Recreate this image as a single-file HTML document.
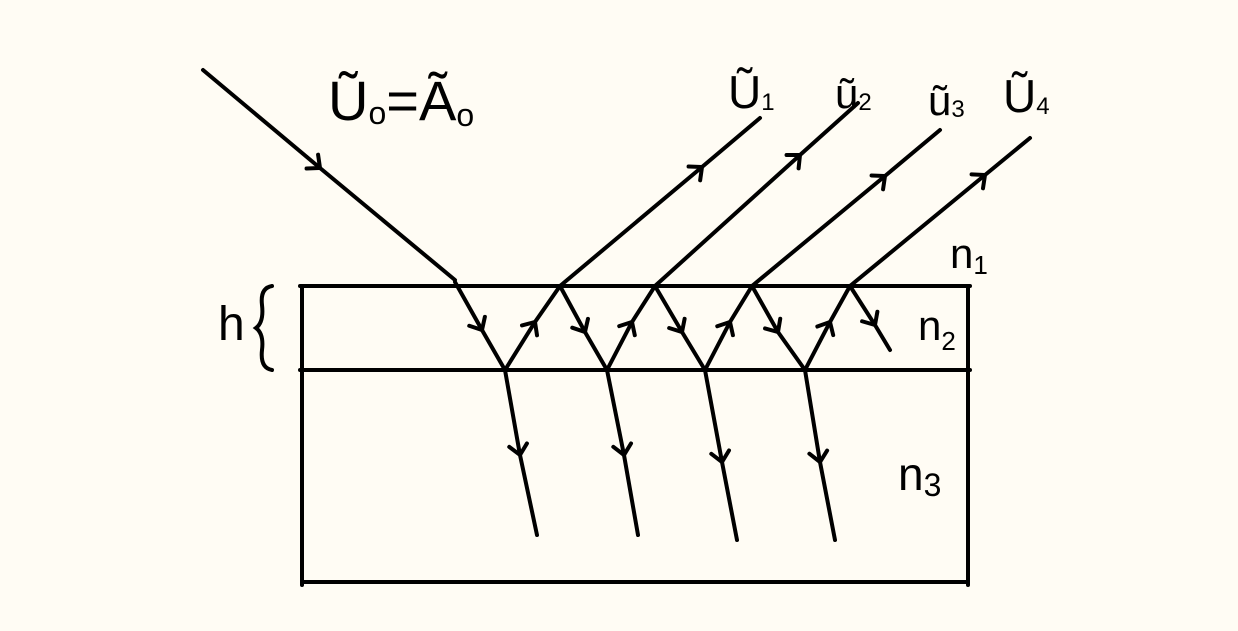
<!DOCTYPE html>
<html><head><meta charset="utf-8"><style>
html,body{margin:0;padding:0;background:#fffcf4;}
svg{display:block}
text{font-family:"Liberation Sans",sans-serif;fill:#000;}
</style></head><body>
<svg width="1238" height="631" viewBox="0 0 1238 631" xmlns="http://www.w3.org/2000/svg">
<defs>
<marker id="a" markerUnits="userSpaceOnUse" markerWidth="30" markerHeight="30" refX="0" refY="0" viewBox="-15 -15 30 30" orient="auto" overflow="visible">
<path d="M-10,-9 L0,0 L-10,9" fill="none" stroke="#000" stroke-width="4" stroke-linecap="round"/>
</marker>
</defs>
<rect width="1238" height="631" fill="#fffcf4"/>
<g stroke="#000" stroke-width="4" fill="none" stroke-linecap="round">
<line x1="300" y1="286" x2="970" y2="286"/>
<line x1="300" y1="370" x2="970" y2="370"/>
<line x1="302" y1="582" x2="968" y2="582"/>
<line x1="302" y1="286" x2="302" y2="585"/>
<line x1="968" y1="286" x2="968" y2="585"/>
<path d="M203,70 L320,168 L455,280" marker-mid="url(#a)"/>
<path d="M455,282 L482,330 L505,370" marker-mid="url(#a)"/>
<path d="M505,370 L535,322 L560,286" marker-mid="url(#a)"/>
<path d="M560,286 L585,332 L607,370" marker-mid="url(#a)"/>
<path d="M607,370 L632,322 L655,286" marker-mid="url(#a)"/>
<path d="M655,286 L682,332 L705,370" marker-mid="url(#a)"/>
<path d="M705,370 L730,322 L752,286" marker-mid="url(#a)"/>
<path d="M752,286 L778,332 L805,370" marker-mid="url(#a)"/>
<path d="M805,370 L830,322 L850,286" marker-mid="url(#a)"/>
<path d="M850,286 L875,325 L890,350" marker-mid="url(#a)"/>
<path d="M560,286 L702,167 L760,118" marker-mid="url(#a)"/>
<path d="M655,286 L800,155 L858,103" marker-mid="url(#a)"/>
<path d="M752,286 L885,176 L940,130" marker-mid="url(#a)"/>
<path d="M850,286 L985,175 L1030,138" marker-mid="url(#a)"/>
<path d="M505,370 L520,455 L537,535" marker-mid="url(#a)"/>
<path d="M607,370 L624,455 L638,535" marker-mid="url(#a)"/>
<path d="M705,370 L722,462 L737,540" marker-mid="url(#a)"/>
<path d="M805,370 L820,462 L835,540" marker-mid="url(#a)"/>
<path d="M272,286 Q260,288 262,305 Q264,322 256,328 Q264,334 262,350 Q260,368 272,370"/>
</g>
<text x="328" y="120" font-size="56">Ũ<tspan font-size="32" dy="4">o</tspan><tspan dy="-4">=Ã</tspan><tspan font-size="32" dy="6">o</tspan></text>
<text x="728" y="108" font-size="46">Ũ<tspan font-size="24" dy="2">1</tspan></text>
<text x="835" y="108" font-size="42">ũ<tspan font-size="24" dy="2">2</tspan></text>
<text x="928" y="115" font-size="42">ũ<tspan font-size="24" dy="2">3</tspan></text>
<text x="1003" y="112" font-size="46">Ũ<tspan font-size="24" dy="2">4</tspan></text>
<text x="950" y="268" font-size="42">n<tspan font-size="26" dy="6">1</tspan></text>
<text x="918" y="340" font-size="42">n<tspan font-size="26" dy="10">2</tspan></text>
<text x="898" y="490" font-size="46">n<tspan font-size="32" dy="6">3</tspan></text>
<text x="218" y="340" font-size="48">h</text>
</svg>
</body></html>
